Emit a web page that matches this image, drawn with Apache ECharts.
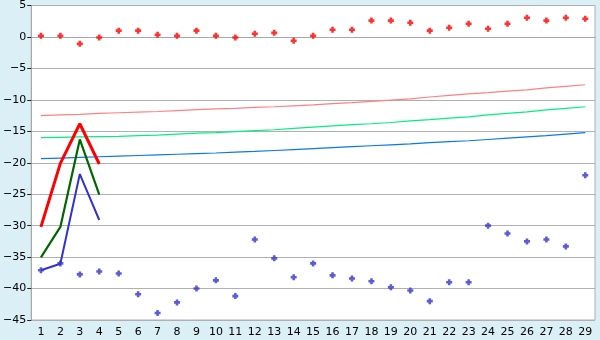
<!DOCTYPE html>
<html><head><meta charset="utf-8">
<script src="https://cdn.jsdelivr.net/npm/echarts@6/dist/echarts.min.js"></script>
<style>html,body{margin:0;padding:0;background:#daeff6;}#c{width:600px;height:340px;}</style>
</head><body><div id="c"></div>
<script>
const categories = ['1','2','3','4','5','6','7','8','9','10','11','12','13','14','15','16','17','18','19','20','21','22','23','24','25','26','27','28','29'];
const redPoints = [0.2,0.2,-1.1,-0.1,1.0,1.0,0.35,0.2,1.0,0.2,-0.1,0.5,0.65,-0.6,0.2,1.15,1.15,2.6,2.6,2.25,1.0,1.45,2.1,1.3,2.1,3.05,2.6,3.05,2.9];
const bluePoints = [-37.1,-36.0,-37.75,-37.3,-37.6,-40.9,-43.9,-42.2,-40.0,-38.7,-41.2,-32.2,-35.2,-38.2,-36.0,-37.9,-38.4,-38.85,-39.8,-40.3,-42.0,-39.0,-39.0,-30.0,-31.25,-32.5,-32.2,-33.3,-22.0];
const redLine = [-30.2,-20.1,-13.8,-20.2];
const greenLine = [-35.05,-30.2,-16.3,-25.05];
const blueLine = [-37.1,-36.05,-21.8,-29.1];
const pinkTrend = [-12.5,-12.4,-12.3,-12.15,-12.05,-11.95,-11.85,-11.7,-11.55,-11.45,-11.35,-11.2,-11.1,-10.95,-10.8,-10.6,-10.45,-10.25,-10.05,-9.85,-9.55,-9.3,-9.05,-8.85,-8.6,-8.4,-8.1,-7.85,-7.6];
const lightGreenTrend = [-16.0,-15.95,-15.9,-15.85,-15.8,-15.7,-15.6,-15.45,-15.3,-15.2,-15.05,-14.9,-14.75,-14.55,-14.35,-14.15,-13.95,-13.8,-13.6,-13.35,-13.15,-12.9,-12.7,-12.4,-12.15,-11.9,-11.6,-11.35,-11.1];
const blueTrend = [-19.35,-19.25,-19.15,-19.05,-18.95,-18.85,-18.75,-18.65,-18.55,-18.45,-18.3,-18.2,-18.05,-17.9,-17.75,-17.6,-17.45,-17.3,-17.15,-17.0,-16.8,-16.65,-16.5,-16.3,-16.1,-15.9,-15.7,-15.45,-15.2];
const yMin = -45, yMax = 5, yStep = 5;

const chart = echarts.init(document.getElementById('c'));
const font = 'DejaVu Sans';
const marker = 'path://M2,0H5V2H7V5H5V7H2V5H0V2H2Z';
function lineSeries(data, color, width, z) {
  return {type:'line', data:data, symbol:'none', z:z, animation:false,
    lineStyle:{color:color, width:width}, itemStyle:{color:color}};
}
chart.setOption({
  backgroundColor:'#daeff6',
  animation:false,
  grid:{left:26, right:5, top:5, bottom:20, show:true, backgroundColor:'#ffffff', borderColor:'#b0b0b0', borderWidth:1},
  xAxis:{type:'category', data:categories, boundaryGap:true,
    axisLine:{lineStyle:{color:'#a8a8a8'}},
    axisTick:{alignWithLabel:true, length:5, lineStyle:{color:'#222'}},
    axisLabel:{color:'#000', fontFamily:font, fontSize:11, margin:7, interval:0},
    splitLine:{show:false}},
  yAxis:{type:'value', min:yMin, max:yMax, interval:yStep,
    axisLine:{show:true, lineStyle:{color:'#a8a8a8'}},
    axisTick:{show:true, length:4, lineStyle:{color:'#222'}},
    axisLabel:{color:'#000', fontFamily:font, fontSize:11, margin:5,
      formatter:v => String(v).replace('-', '\u2212')},
    splitLine:{lineStyle:{color:'#b0b0b0', width:1}}},
  series:[
    lineSeries(pinkTrend, '#ff8080', 1.2, 2),
    lineSeries(lightGreenTrend, '#00f080', 1.2, 2),
    lineSeries(blueTrend, '#0a78e6', 1.2, 2),
    lineSeries(redLine, '#ff0000', 3, 3),
    lineSeries(greenLine, '#006600', 2.2, 3),
    lineSeries(blueLine, '#3333cc', 2, 3),
    {type:'scatter', data:redPoints, symbol:marker, symbolSize:6, itemStyle:{color:'#ff0000'}, z:4},
    {type:'scatter', data:bluePoints, symbol:marker, symbolSize:6, itemStyle:{color:'#3333cc'}, z:4}
  ]
});
</script></body></html>
